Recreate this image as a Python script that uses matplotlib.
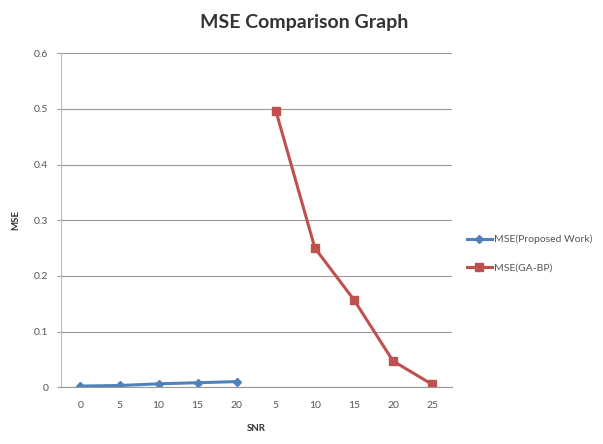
import matplotlib.pyplot as plt
import numpy as np

plt.rcParams["font.family"] = ["Lato", "DejaVu Sans"]

snr_labels = ["0", "5", "10", "15", "20", "5", "10", "15", "20", "25"]
mse_proposed = [0.002, 0.003, 0.006, 0.008, 0.010]
mse_gabp = [0.497, 0.250, 0.157, 0.047, 0.005]

x = np.arange(len(snr_labels))

fig = plt.figure(figsize=(6.03, 4.44), dpi=100)
ax = fig.add_axes([0.101, 0.128, 0.648, 0.752])

ax.plot(x[:5], mse_proposed, color="#4F81BD", lw=2.2, marker="D", ms=4.5,
        label="MSE(Proposed Work)")
ax.plot(x[5:], mse_gabp, color="#C0504D", lw=2.2, marker="s", ms=5.5,
        label="MSE(GA-BP)")

ax.set_xlim(-0.5, 9.5)
ax.set_ylim(0, 0.6)
ax.set_xticks(x)
ax.set_xticklabels(snr_labels)
ax.set_yticks(np.arange(0, 0.61, 0.1))
ax.set_yticklabels(["0", "0.1", "0.2", "0.3", "0.4", "0.5", "0.6"])
ax.grid(axis="y", color="#999999", lw=0.8)
ax.set_axisbelow(True)
for s in ["top", "right"]:
    ax.spines[s].set_visible(False)
ax.spines["left"].set_color("#bbbbbb")
ax.spines["bottom"].set_color("#999999")
ax.tick_params(axis="x", length=0, labelsize=7.5, colors="#555555", pad=10)
ax.tick_params(axis="y", length=3, color="#999999", labelsize=7.5,
               colors="#555555", pad=6)

ax.set_xlabel("SNR", fontsize=7, fontweight="bold", color="#333333", labelpad=10)
ax.set_ylabel("MSE", fontsize=7, fontweight="bold", color="#333333", labelpad=10)
fig.text(0.504, 0.95, "MSE Comparison Graph", ha="center", va="center",
         fontsize=14, fontweight="bold", color="#333333")

ax.legend(loc="center left", bbox_to_anchor=(1.015, 0.40), frameon=False,
          fontsize=7.5, labelcolor="#555555", handlelength=2.4, labelspacing=1.8,
          handletextpad=0.2)

fig.savefig("out.png", dpi=100)
